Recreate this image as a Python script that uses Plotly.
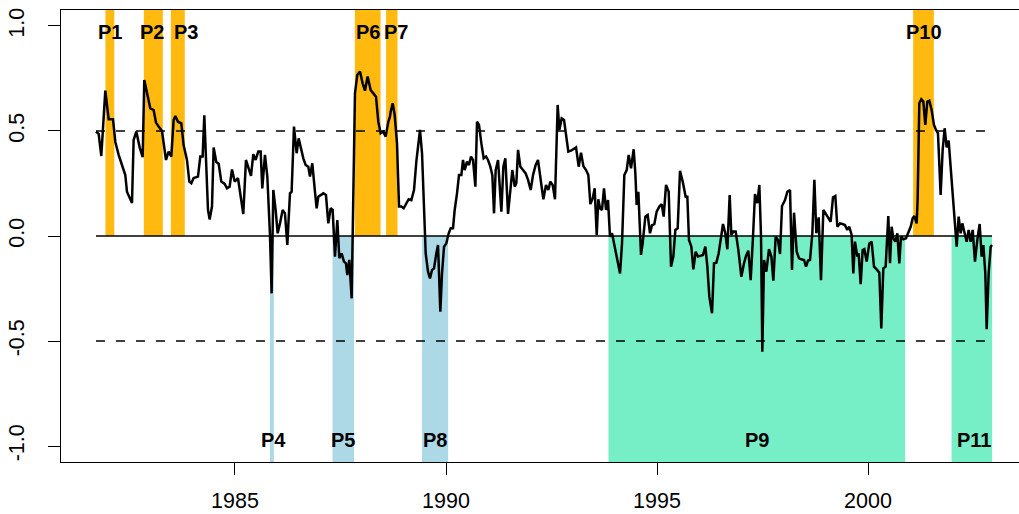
import plotly.graph_objects as go

# ---- data ----
years = [
 1981.706,1981.769,1981.832,1981.927,1982.006,1982.109,1982.164,1982.243,1982.322,1982.401,
 1982.440,1982.504,1982.559,1982.598,1982.662,1982.741,1982.812,1982.851,1982.914,1982.993,
 1983.072,1983.128,1983.191,1983.270,1983.365,1983.428,1983.491,1983.546,1983.586,1983.649,
 1983.728,1983.783,1983.862,1983.918,1983.965,1984.020,1984.123,1984.178,1984.233,1984.273,
 1984.360,1984.399,1984.455,1984.494,1984.557,1984.613,1984.676,1984.755,1984.810,1984.873,
 1984.929,1984.992,1985.071,
 1985.197,1985.260,1985.315,1985.379,1985.434,1985.489,1985.552,1985.608,1985.647,1985.710,
 1985.766,1985.829,1985.868,1985.908,1985.963,1986.011,1986.066,1986.129,1986.184,1986.240,
 1986.303,1986.342,1986.398,1986.461,1986.508,1986.564,1986.619,1986.674,1986.737,1986.777,
 1986.832,1986.895,1986.935,1986.974,1987.037,1987.093,1987.156,1987.211,1987.267,1987.314,
 1987.369,1987.425,1987.472,1987.527,1987.582,1987.630,1987.661,1987.709,1987.764,1987.804,
 1987.843,1987.898,1987.962,1988.025,1988.080,1988.143,1988.214,1988.278,1988.341,1988.396,
 1988.451,1988.515,1988.570,1988.633,1988.672,
 1988.689,1988.737,1988.784,1988.839,1988.887,1988.942,1988.997,1989.060,1989.116,1989.179,
 1989.242,1989.297,1989.337,1989.384,1989.432,1989.479,1989.519,1989.574,1989.621,1989.669,
 1989.716,1989.771,1989.811,1989.866,1989.906,1989.953,1990.008,1990.064,1990.111,1990.166,
 1990.206,1990.261,1990.308,1990.364,1990.403,1990.443,1990.498,1990.545,1990.593,1990.640,
 1990.696,1990.735,1990.782,1990.838,1990.893,1990.948,1990.996,1991.051,1991.098,1991.138,
 1991.177,1991.233,1991.272,1991.312,1991.359,1991.406,1991.470,1991.517,1991.572,1991.628,
 1991.667,1991.707,1991.762,1991.825,1991.888,1991.944,1992.007,1992.062,1992.125,1992.180,
 1992.251,1992.307,1992.370,1992.425,1992.473,1992.528,1992.583,1992.646,1992.686,1992.741,
 1992.797,1992.844,1992.899,1992.962,1993.026,1993.081,1993.144,1993.199,1993.255,1993.318,
 1993.373,1993.421,1993.476,1993.523,1993.571,1993.610,1993.650,1993.697,1993.744,1993.792,
 1993.839,1993.886,1993.934,1993.989,1994.045,1994.124,1994.171,1994.226,1994.282,1994.329,
 1994.384,1994.447,1994.487,1994.518,1994.558,1994.621,1994.660,1994.724,1994.779,1994.834,
 1994.882,1994.937,1994.992,1995.055,1995.111,1995.158,1995.214,1995.277,1995.332,1995.387,
 1995.435,1995.490,1995.545,1995.609,
 1995.679,1995.719,1995.758,1995.814,1995.861,1995.916,1995.972,1996.035,1996.090,1996.146,
 1996.193,1996.240,1996.304,1996.351,1996.406,1996.461,1996.509,1996.564,1996.619,1996.667,
 1996.722,1996.762,1996.809,1996.864,1996.928,1996.999,1997.062,1997.109,1997.164,1997.220,
 1997.275,1997.322,1997.378,1997.425,1997.465,1997.496,1997.536,1997.591,1997.654,1997.710,
 1997.757,1997.812,1997.867,1997.915,1997.962,1998.033,1998.089,1998.152,1998.199,1998.247,
 1998.310,1998.365,1998.420,1998.484,1998.531,1998.578,1998.626,1998.681,1998.729,1998.776,
 1998.831,1998.886,1998.942,1998.997,1999.060,1999.115,1999.171,1999.226,1999.273,1999.337,
 1999.392,
 1999.454,1999.510,1999.557,1999.612,1999.652,1999.691,1999.747,1999.778,1999.826,1999.873,
 1999.913,1999.968,2000.031,2000.086,2000.142,2000.205,2000.268,2000.315,2000.363,2000.418,
 2000.450,2000.481,2000.521,2000.560,2000.600,2000.647,2000.695,2000.742,2000.781,2000.837,
 2000.900,2000.955,2001.011,2001.058,2001.097,2001.153,2001.176,2001.216,2001.263,2001.311,
 2001.358,2001.405,2001.453,2001.508,2001.563,2001.611,2001.658,2001.721,2001.769,2001.816,
 2001.864,2001.911,2001.958,2002.006,2002.061,2002.101,2002.148,2002.195,2002.235,2002.282,
 2002.338,2002.385,2002.432,2002.480,2002.535,2002.590,2002.646,2002.693,2002.733,2002.780,
 2002.812,2002.859,2002.907,2002.938,
]
values = [
 0.497,0.486,0.381,0.692,0.556,0.556,0.449,0.386,0.338,0.290,
 0.211,0.179,0.157,0.457,0.497,0.422,0.375,0.743,0.679,0.608,
 0.600,0.540,0.521,0.500,0.362,0.402,0.378,0.552,0.571,0.544,
 0.536,0.432,0.362,0.259,0.251,0.276,0.283,0.378,0.378,0.575,
 0.124,0.079,0.140,0.421,0.352,0.344,0.259,0.248,0.227,0.235,
 0.317,0.259,0.275,
 0.105,0.362,0.330,0.286,0.390,0.362,0.402,0.402,0.227,0.386,
 0.283,0.005,-0.273,0.219,0.124,0.013,0.060,0.124,0.108,-0.043,
 0.203,0.211,0.521,0.394,0.465,0.410,0.370,0.338,0.330,0.283,
 0.346,0.211,0.132,0.187,0.195,0.203,0.195,0.060,0.132,0.124,
 -0.098,0.076,-0.106,-0.083,-0.122,-0.130,-0.186,-0.114,-0.297,0.108,
 0.679,0.767,0.783,0.727,0.692,0.759,0.695,0.679,0.663,0.544,
 0.489,0.497,0.473,0.544,0.568,
 0.592,0.632,0.576,0.441,0.140,0.140,0.132,0.156,0.175,0.171,
 0.219,0.354,0.441,0.505,0.394,0.092,-0.083,-0.170,-0.202,-0.162,
 -0.154,-0.083,-0.043,-0.360,-0.178,-0.051,-0.035,0.013,0.037,0.037,
 0.124,0.203,0.290,0.290,0.362,0.314,0.354,0.338,0.378,0.362,
 0.235,0.544,0.529,0.441,0.370,0.378,0.362,0.330,0.290,0.108,
 0.314,0.362,0.251,0.116,0.330,0.370,0.105,0.203,0.314,0.235,
 0.251,0.410,0.330,0.314,0.298,0.267,0.219,0.290,0.338,0.362,
 0.251,0.175,0.243,0.219,0.259,0.243,0.175,0.624,0.505,0.560,
 0.552,0.489,0.402,0.406,0.417,0.422,0.330,0.397,0.333,0.314,
 0.290,0.152,0.179,0.227,0.005,0.175,0.132,0.124,0.227,0.124,
 0.171,-0.003,0.013,-0.043,-0.098,-0.178,-0.035,0.290,0.314,0.386,
 0.322,0.413,0.298,0.148,0.211,-0.090,-0.035,0.092,0.100,0.013,
 0.052,0.057,0.116,0.140,0.152,0.092,0.243,0.211,-0.146,-0.098,
 0.029,0.037,0.311,0.259,
 0.187,0.187,-0.019,-0.051,-0.159,-0.075,-0.098,-0.095,-0.090,-0.051,
 -0.146,-0.289,-0.368,-0.130,-0.127,-0.083,-0.019,0.057,0.013,-0.063,
 0.195,0.005,0.021,0.021,-0.067,-0.194,-0.130,-0.095,-0.070,-0.210,
 -0.003,0.200,0.156,0.243,-0.003,-0.551,-0.114,-0.170,-0.063,-0.098,
 -0.213,-0.003,-0.019,-0.086,0.143,0.171,0.211,0.219,-0.162,0.111,
 -0.075,-0.106,-0.111,-0.114,-0.146,-0.117,-0.114,0.013,0.267,0.013,
 0.089,-0.210,0.124,0.108,0.089,0.068,0.184,0.190,0.044,0.060,
 0.057,
 0.052,0.029,0.044,0.005,-0.178,-0.027,-0.098,-0.083,-0.229,-0.067,
 -0.063,-0.122,-0.035,-0.027,-0.146,-0.159,-0.175,-0.440,-0.154,-0.146,
 -0.027,0.095,-0.130,0.044,-0.011,-0.027,0.013,-0.130,-0.003,-0.016,
 -0.011,0.013,0.044,0.084,0.095,0.060,0.171,0.632,0.651,0.640,
 0.529,0.640,0.644,0.600,0.529,0.505,0.489,0.195,0.410,0.513,
 0.422,0.454,0.330,0.203,0.092,-0.051,0.092,0.013,0.060,0.016,
 -0.027,0.029,-0.027,0.029,-0.122,-0.019,0.057,-0.098,-0.043,-0.178,
 -0.444,-0.178,-0.051,-0.043,
]

period_names = ["P1", "P2", "P3", "P4", "P5", "P6", "P7", "P8", "P9", "P10", "P11"]
period_start = [1981.93, 1982.84, 1983.48, 1985.83, 1987.31, 1987.84, 1988.58, 1989.43, 1993.85, 2001.07, 2001.98]
period_end   = [1982.14, 1983.29, 1983.81, 1985.92, 1987.82, 1988.45, 1988.85, 1990.05, 2000.88, 2001.56, 2002.94]
period_type  = ["high", "high", "high", "low", "low", "high", "high", "low", "mid", "high", "mid"]
label_x      = [1982.04, 1983.04, 1983.84, 1985.91, 1987.57, 1988.14, 1988.82, 1989.75, 1997.37, 2001.32, 2002.50]

threshold_levels = [0.5, -0.5]
x_ticks = [1985, 1990, 1995, 2000]
y_ticks = [1.0, 0.5, 0.0, -0.5, -1.0]
y_tick_text = ["1.0", "0.5", "0.0", "-0.5", "-1.0"]

# ---- styling ----
colors = {"high": "#FFB90F", "low": "#ADD8E6", "mid": "#76EEC6"}
YLIM = 1.076
XR = [1980.877, 2003.578]
FONT = "Liberation Sans, Arial, Helvetica, sans-serif"

fig = go.Figure()

shapes = []
annotations = []
for name, s, e, t, lx in zip(period_names, period_start, period_end, period_type, label_x):
    if t == "high":
        y0, y1, ly = 0, YLIM, 0.97
    else:
        y0, y1, ly = -YLIM, 0, -0.97
    shapes.append(dict(type="rect", xref="x", yref="y", x0=s, x1=e, y0=y0, y1=y1,
                       fillcolor=colors[t], line=dict(width=0), layer="below"))
    annotations.append(dict(x=lx, y=ly, xref="x", yref="y", text=name, showarrow=False,
                            font=dict(family=FONT, size=20, color="black", weight="bold"),
                            xanchor="center", yanchor="middle"))

x_first, x_last = years[0], years[-1]
fig.add_trace(go.Scatter(x=[x_first, x_last], y=[0, 0], mode="lines",
                         line=dict(color="black", width=1.5), hoverinfo="skip", showlegend=False))
for lev in threshold_levels:
    fig.add_trace(go.Scatter(x=[x_first, x_last], y=[lev, lev], mode="lines",
                             line=dict(color="black", width=1.5, dash="9px,11px"),
                             hoverinfo="skip", showlegend=False))

fig.add_trace(go.Scatter(x=years, y=values, mode="lines",
                         line=dict(color="black", width=2.5), showlegend=False))

fig.update_layout(
    width=1019, height=514,
    margin=dict(l=61, r=0, t=10, b=52, autoexpand=False),
    paper_bgcolor="white", plot_bgcolor="white",
    shapes=shapes, annotations=annotations,
    font=dict(family=FONT, color="black"),
    showlegend=False,
)
fig.update_xaxes(range=XR, showgrid=False, zeroline=False, automargin=False,
                 showline=True, linecolor="black", linewidth=1, mirror=True,
                 ticks="outside", ticklen=12, tickwidth=1, tickcolor="black",
                 tickvals=x_ticks, ticktext=[str(v) for v in x_ticks],
                 tickfont=dict(size=21.5, family=FONT, color="black"),
                 ticklabelstandoff=7)
fig.update_yaxes(range=[-YLIM, YLIM], showgrid=False, zeroline=False, automargin=False,
                 showline=True, linecolor="black", linewidth=1,
                 ticks="outside", ticklen=12, tickwidth=1, tickcolor="black",
                 tickvals=y_ticks, ticktext=y_tick_text, tickangle=-90,
                 tickfont=dict(size=21.5, family=FONT, color="black"),
                 ticklabelstandoff=15)

fig.write_html("out.html",
               config={"displayModeBar": False},
               post_script="document.body.style.margin='0';document.body.style.overflow='hidden';")
